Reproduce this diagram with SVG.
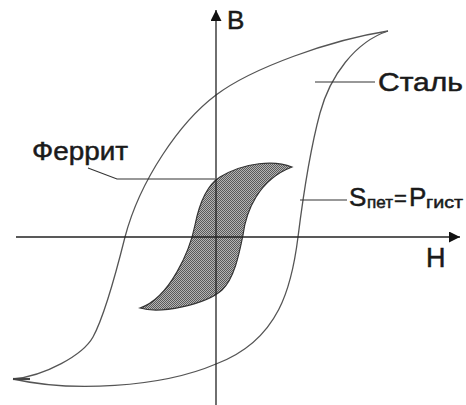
<svg xmlns="http://www.w3.org/2000/svg" width="466" height="405" viewBox="0 0 466 405">
<style>
.ax{stroke:#222;stroke-width:1.3;fill:none}
.crv{stroke:#555;stroke-width:1.3;fill:none}
.ld{stroke:#333;stroke-width:1.1;fill:none}
.t{font-family:"Liberation Sans",Arial,sans-serif;fill:#1a1a1a;stroke:#1a1a1a;stroke-width:0.5}
</style>
<defs>
<pattern id="dots" width="2" height="2" patternUnits="userSpaceOnUse">
<rect width="2" height="2" fill="#b4b4b4"/>
<rect width="1" height="1" fill="#5a5a5a"/>
<rect x="1" y="1" width="1" height="1" fill="#5a5a5a"/>
</pattern>
<marker id="arr" viewBox="0 0 10 10" refX="10" refY="5" markerWidth="14" markerHeight="11" markerUnits="userSpaceOnUse" orient="auto">
<path d="M0,0 L10,5 L0,10 Z" fill="#111"/>
</marker>
</defs>
<rect width="466" height="405" fill="#fff"/>
<g id="ferrite">
<path d="M292,167 C275,160 245,162 220,177 C207,185 199,205 195,225 C190,250 170,298 140,308 C160,314 205,305 222,290 C234,279 239,255 243,235 C246,212 258,180 292,167 Z" fill="url(#dots)" stroke="#333" stroke-width="1.2"/>
</g>
<g id="steel">
<path class="crv" d="M388,31 C330,40 252,68 216,95 C180,122 140,180 125,237 C120,257 105,315 93,337 C83,355 45,376 13,379"/>
<path class="crv" d="M13,379 C70,392 160,388 216,364 C280,340 292,285 298,237 C303,197 310,150 320,113 C330,76 355,42 388,31"/>
<path d="M13,379 L30,379" stroke="#444" stroke-width="2.2"/>
</g>
<g id="axes">
<line class="ax" x1="216" y1="405" x2="216" y2="10" marker-end="url(#arr)"/>
<line class="ax" x1="16" y1="237" x2="460" y2="237" marker-end="url(#arr)"/>
</g>
<g id="connectors">
<line class="ld" x1="315" y1="82" x2="375" y2="82"/>
<polyline class="ld" points="88,168 117,179 215,179"/>
<line class="ld" x1="300" y1="200" x2="347" y2="200"/>
</g>
<g id="labels">
<text class="t" x="227" y="29" font-size="26">B</text>
<text class="t" x="426" y="267" font-size="27">H</text>
<text class="t" x="378" y="91" font-size="26" textLength="85" lengthAdjust="spacingAndGlyphs">Сталь</text>
<text class="t" x="32" y="160" font-size="26" textLength="96" lengthAdjust="spacingAndGlyphs">Феррит</text>
<text class="t" x="349" y="206" font-size="26">S</text>
<text class="t" x="367" y="208" font-size="17" textLength="26" lengthAdjust="spacingAndGlyphs">пет</text>
<text class="t" x="394" y="206" font-size="22">=</text>
<text class="t" x="409" y="206" font-size="26">P</text>
<text class="t" x="426" y="208" font-size="17" textLength="37" lengthAdjust="spacingAndGlyphs">гист</text>
</g>
</svg>
